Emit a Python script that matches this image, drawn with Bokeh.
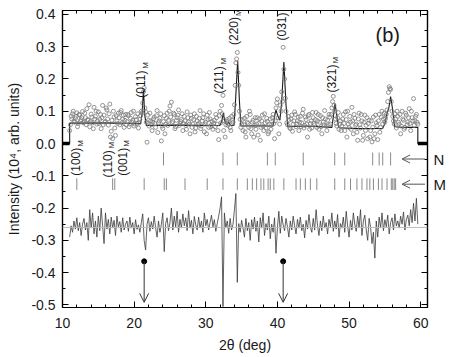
import numpy as np
from bokeh.plotting import figure
from bokeh.models import (LinearAxis, Range1d, Label, Arrow, OpenHead, ColumnDataSource,
                          FixedTicker, PrintfTickFormatter, CustomJSTickFormatter, Span)
from bokeh.core.properties import value
from bokeh.embed import file_html
from bokeh.resources import INLINE

# ---------------- data ----------------
two_theta = np.round(np.arange(11.0, 59.61, 0.2), 1)       # step-scan grid (deg)
two_theta_mid = np.round(np.arange(11.1, 59.51, 0.2), 1)   # interleaved scan points

observed = [
    0.040, 0.085, 0.092, 0.070, 0.078, 0.095, 0.062, 0.088, 0.074, 0.099,
    0.066, 0.080, 0.108, 0.072, 0.052, 0.091, 0.064, 0.112, 0.084, 0.060,
    0.098, 0.075, 0.046, 0.118, 0.088, 0.068, 0.104, 0.057, 0.122, 0.038,
    0.015, 0.082, 0.025, 0.070, 0.094, 0.058, 0.102, 0.076, 0.050, 0.090,
    0.068, 0.086, 0.060, 0.096, 0.072, 0.054, 0.083, 0.062, 0.048, 0.075,
    0.100, 0.125, 0.172, 0.098, 0.004, 0.072, 0.094, 0.058, 0.066, 0.082,
    0.050, 0.102, 0.064, 0.078, 0.008, 0.046, 0.086, 0.060, 0.094, 0.072,
    0.116, 0.128, 0.068, 0.090, 0.052, 0.080, 0.104, 0.062, 0.074, 0.040,
    0.084, 0.056, 0.098, 0.066, 0.030, 0.078, 0.060, 0.092, 0.048, 0.070,
    0.062, 0.102, 0.054, 0.080, 0.036, 0.066, 0.088, 0.050, 0.076, 0.058,
    0.044, 0.072, 0.090, 0.060, 0.012, 0.100, 0.118, 0.149, 0.070, 0.058,
    0.074, 0.062, 0.050, 0.084, 0.066, 0.120, 0.250, 0.282, 0.180, 0.075,
    0.060, 0.040, 0.078, 0.020, 0.066, 0.050, 0.090, 0.030, 0.072, 0.056,
    0.044, 0.080, 0.062, 0.010, 0.070, 0.054, 0.092, 0.048, 0.068, 0.036,
    0.076, 0.058, 0.090, 0.015, 0.110, 0.138, 0.030, 0.118, 0.160, 0.298,
    0.200, 0.100, 0.058, 0.072, 0.046, 0.088, 0.060, 0.098, 0.052, 0.070,
    0.040, 0.084, 0.064, 0.106, 0.056, 0.074, 0.020, 0.090, 0.062, 0.048,
    0.080, 0.058, 0.096, 0.070, 0.044, 0.086, 0.030, 0.066, 0.102, 0.054,
    0.072, 0.090, 0.060, 0.110, 0.146, 0.100, 0.062, 0.080, 0.044, 0.070,
    0.054, 0.090, 0.040, 0.074, 0.100, 0.050, 0.066, 0.112, 0.030, 0.078,
    0.060, 0.010, 0.094, 0.048, 0.070, 0.025, 0.088, 0.056, 0.015, 0.072,
    0.040, 0.005, 0.082, 0.030, 0.064, 0.012, 0.090, 0.050, 0.100, 0.076,
    0.066, 0.090, 0.130, 0.176, 0.168, 0.100, 0.070, 0.092, 0.048, 0.084,
    0.060, 0.030, 0.100, 0.072, 0.050, 0.088, 0.066, 0.108, 0.040, 0.080,
    0.139, 0.070, 0.090, 0.060,
]

observed_mid = [
    0.058, 0.076, 0.100, 0.066, 0.084, 0.052, 0.090, 0.070, 0.080, 0.064,
    0.094, 0.058, 0.074, 0.120, 0.068, 0.082, 0.046, 0.076, 0.100, 0.070,
    0.062, 0.090, 0.080, 0.058, 0.066, 0.110, 0.076, 0.092, 0.020, 0.072,
    0.100, 0.048, 0.086, 0.062, 0.080, 0.096, 0.064, 0.088, 0.072, 0.058,
    0.090, 0.052, 0.078, 0.066, 0.100, 0.060, 0.074, 0.092, 0.064, 0.086,
    0.095, 0.160, 0.110, 0.066, 0.088, 0.054, 0.070, 0.040, 0.076, 0.062,
    0.086, 0.034, 0.070, 0.092, 0.054, 0.068, 0.030, 0.078, 0.056, 0.100,
    0.082, 0.064, 0.094, 0.046, 0.072, 0.088, 0.056, 0.068, 0.092, 0.062,
    0.070, 0.044, 0.080, 0.060, 0.088, 0.050, 0.074, 0.036, 0.084, 0.058,
    0.078, 0.046, 0.070, 0.092, 0.060, 0.030, 0.074, 0.096, 0.052, 0.068,
    0.062, 0.052, 0.080, 0.040, 0.086, 0.064, 0.092, 0.040, 0.020, 0.068,
    0.056, 0.078, 0.040, 0.072, 0.090, 0.180, 0.262, 0.220, 0.100, 0.050,
    0.074, 0.058, 0.036, 0.084, 0.062, 0.100, 0.046, 0.066, 0.020, 0.080,
    0.060, 0.026, 0.076, 0.050, 0.088, 0.040, 0.064, 0.078, 0.030, 0.060,
    0.044, 0.080, 0.062, 0.070, 0.126, 0.080, 0.060, 0.100, 0.130, 0.230,
    0.140, 0.064, 0.084, 0.050, 0.076, 0.038, 0.070, 0.090, 0.060, 0.082,
    0.066, 0.052, 0.094, 0.048, 0.082, 0.060, 0.086, 0.044, 0.070, 0.096,
    0.062, 0.074, 0.050, 0.090, 0.066, 0.052, 0.080, 0.058, 0.076, 0.040,
    0.058, 0.082, 0.090, 0.130, 0.118, 0.076, 0.054, 0.096, 0.060, 0.040,
    0.076, 0.062, 0.098, 0.020, 0.060, 0.084, 0.044, 0.070, 0.090, 0.056,
    0.035, 0.076, 0.058, 0.090, 0.010, 0.066, 0.040, 0.080, 0.062, 0.020,
    0.070, 0.050, 0.015, 0.088, 0.056, 0.070, 0.035, 0.082, 0.060, 0.094,
    0.078, 0.104, 0.158, 0.170, 0.130, 0.084, 0.060, 0.076, 0.100, 0.066,
    0.090, 0.054, 0.076, 0.044, 0.094, 0.058, 0.080, 0.062, 0.100, 0.070,
    0.056, 0.084, 0.066,
]

difference = [
    -0.290, -0.255, -0.275, -0.240, -0.265, -0.230, -0.270, -0.245, -0.285, -0.250,
    -0.232, -0.268, -0.245, -0.300, -0.205, -0.262, -0.215, -0.280, -0.240, -0.290,
    -0.225, -0.270, -0.200, -0.255, -0.310, -0.215, -0.265, -0.235, -0.280, -0.228,
    -0.262, -0.238, -0.285, -0.225, -0.258, -0.242, -0.275, -0.230, -0.268, -0.250,
    -0.240, -0.272, -0.228, -0.262, -0.245, -0.280, -0.236, -0.266, -0.252, -0.275,
    -0.245, -0.218, -0.300, -0.330, -0.250, -0.230, -0.272, -0.242, -0.265, -0.225,
    -0.262, -0.290, -0.240, -0.275, -0.250, -0.215, -0.335, -0.248, -0.230, -0.270,
    -0.245, -0.200, -0.268, -0.225, -0.258, -0.210, -0.275, -0.235, -0.262, -0.218,
    -0.255, -0.230, -0.270, -0.208, -0.262, -0.238, -0.280, -0.226, -0.252, -0.268,
    -0.228, -0.262, -0.240, -0.275, -0.215, -0.255, -0.235, -0.268, -0.245, -0.222,
    -0.258, -0.236, -0.272, -0.248, -0.225, -0.200, -0.165, -0.505, -0.215, -0.262,
    -0.240, -0.278, -0.232, -0.268, -0.250, -0.205, -0.155, -0.430, -0.248, -0.275,
    -0.238, -0.262, -0.290, -0.232, -0.270, -0.245, -0.300, -0.236, -0.265, -0.228,
    -0.272, -0.240, -0.305, -0.230, -0.262, -0.215, -0.285, -0.248, -0.268, -0.225,
    -0.295, -0.250, -0.275, -0.230, -0.340, -0.262, -0.210, -0.278, -0.225, -0.252,
    -0.270, -0.232, -0.258, -0.290, -0.240, -0.268, -0.225, -0.255, -0.280, -0.235,
    -0.262, -0.228, -0.270, -0.250, -0.292, -0.238, -0.265, -0.220, -0.258, -0.275,
    -0.232, -0.268, -0.205, -0.255, -0.285, -0.240, -0.270, -0.225, -0.262, -0.245,
    -0.280, -0.235, -0.258, -0.215, -0.272, -0.240, -0.265, -0.220, -0.290, -0.248,
    -0.262, -0.228, -0.275, -0.210, -0.255, -0.290, -0.238, -0.268, -0.215, -0.250,
    -0.272, -0.225, -0.262, -0.205, -0.285, -0.240, -0.222, -0.268, -0.300, -0.232,
    -0.258, -0.310, -0.275, -0.355, -0.240, -0.290, -0.228, -0.262, -0.215, -0.270,
    -0.236, -0.258, -0.222, -0.280, -0.245, -0.230, -0.268, -0.218, -0.255, -0.240,
    -0.262, -0.225, -0.250, -0.212, -0.268, -0.235, -0.222, -0.255, -0.205, -0.245,
    -0.185, -0.240, -0.170, -0.250,
]

fit_x = [10.0, 11.0, 11.0, 16.0, 20.9, 21.1, 21.3, 21.5, 21.7, 26.0,
         32.0, 32.25, 32.45, 32.65, 32.9, 33.2, 33.45, 33.95, 34.15, 34.45,
         34.7, 34.9, 37.0, 39.4, 39.65, 39.8, 40.05, 40.35, 40.6, 40.9,
         41.2, 41.45, 44.0, 47.6, 47.85, 48.05, 48.3, 48.55, 51.0, 54.7,
         55.0, 55.35, 55.55, 55.8, 56.05, 56.35, 57.5, 59.6, 59.6, 60.95]
fit_y = [0.0, 0.0, 0.063, 0.064, 0.062, 0.09, 0.165, 0.085, 0.056, 0.057,
         0.056, 0.072, 0.094, 0.07, 0.058, 0.066, 0.056, 0.057, 0.13, 0.256,
         0.13, 0.054, 0.055, 0.054, 0.09, 0.104, 0.085, 0.072, 0.13, 0.252,
         0.12, 0.052, 0.054, 0.050, 0.09, 0.124, 0.085, 0.049, 0.046, 0.047,
         0.062, 0.097, 0.11, 0.145, 0.11, 0.052, 0.05, 0.05, 0.0, 0.0]

phase_names = ["N", "M"]
n_reflections = [24.1, 32.4, 34.4, 38.6, 39.7, 43.6, 48.0, 49.4, 53.3, 54.2, 54.7, 55.8]
m_reflections = [12.0, 17.0, 17.3, 21.4, 24.2, 24.5, 27.1, 30.2, 32.4, 34.4, 35.8,
                 36.5, 37.1, 37.7, 38.1, 38.7, 39.0, 39.5, 40.9, 42.6, 43.2, 43.9,
                 44.6, 45.5, 48.0, 49.4, 50.2, 51.1, 51.8, 52.5, 52.9, 53.4, 54.1,
                 54.6, 55.3, 55.9, 56.1, 56.3, 56.5]

hkl_labels = ["(100)", "(110)", "(001)", "(011)", "(211)", "(220)", "(031)", "(321)"]
hkl_phase = ["M"] * 8
hkl_x = [11.9, 16.3, 18.4, 21.0, 31.9, 34.0, 40.6, 47.6]
hkl_y = [-0.100, -0.105, -0.100, 0.142, 0.155, 0.305, 0.319, 0.158]

marker_x = [21.4, 40.8]
marker_top = [-0.365, -0.365]
marker_bottom = [-0.492, -0.492]

diff_offset = -0.26
x_ticks = [10, 20, 30, 40, 50, 60]
y_ticks = [-0.5, -0.4, -0.3, -0.2, -0.1, 0.0, 0.1, 0.2, 0.3, 0.4]

# ---------------- figure ----------------
FONT = "Liberation Sans"
N_ROW_Y, M_ROW_Y = -0.048, -0.126

p = figure(width=450, height=357, x_range=Range1d(10, 60.95), y_range=Range1d(-0.508, 0.412),
           output_backend="svg", toolbar_location=None,
           min_border_left=62, min_border_right=23, min_border_top=10, min_border_bottom=50)
p.xgrid.visible = False
p.ygrid.visible = False
p.outline_line_color = "black"
p.outline_line_width = 1.2
p.background_fill_color = "white"
p.border_fill_color = "white"

x_minor = [v for v in np.round(np.arange(10, 61, 2), 1) if v not in x_ticks]
y_minor = list(np.round(np.arange(-0.5, 0.41, 0.05), 2))
xt = FixedTicker(ticks=x_ticks, minor_ticks=x_minor)
yt = FixedTicker(ticks=y_ticks, minor_ticks=y_minor)

bottom_ax = p.below[0]
left_ax = p.left[0]
bottom_ax.ticker = xt
left_ax.ticker = yt
left_ax.formatter = PrintfTickFormatter(format="%.1f")
bottom_ax.axis_label = "2\u03b8 (deg)"
left_ax.axis_label = "Intensity (10\u2074, arb. units)"

top_ax = LinearAxis(ticker=xt, formatter=CustomJSTickFormatter(code="return ''"),
                    major_label_text_font_size="0px", major_label_standoff=0)
right_ax = LinearAxis(ticker=yt, formatter=CustomJSTickFormatter(code="return ''"),
                      major_label_text_font_size="0px", major_label_standoff=0)
p.add_layout(top_ax, "above")
p.add_layout(right_ax, "right")

for ax in (bottom_ax, left_ax, top_ax, right_ax):
    ax.major_tick_in = 6
    ax.major_tick_out = 0
    ax.minor_tick_in = 3
    ax.minor_tick_out = 0
    ax.axis_line_color = "black"
    ax.axis_line_width = 1.2
    ax.major_tick_line_color = "black"
    ax.minor_tick_line_color = "black"
for ax in (bottom_ax, left_ax):
    ax.major_label_text_font = FONT
    ax.major_label_text_font_size = "14px"
    ax.major_label_text_color = "#1a1a1a"
    ax.axis_label_text_font = FONT
    ax.axis_label_text_font_size = "14px"
    ax.axis_label_text_font_style = "normal"
    ax.axis_label_text_color = "#1a1a1a"
bottom_ax.major_label_standoff = 10
bottom_ax.axis_label_standoff = 6
left_ax.major_label_standoff = 7
left_ax.axis_label_standoff = 6

# phase names as labels on an extra right-hand axis (no line, no ticks)
name_ax = LinearAxis(ticker=FixedTicker(ticks=[N_ROW_Y, M_ROW_Y], minor_ticks=[]),
                     major_label_overrides={N_ROW_Y: phase_names[0], M_ROW_Y: phase_names[1]},
                     axis_line_color=None, major_tick_line_color=None, minor_tick_line_color=None,
                     major_tick_in=0, major_tick_out=0, minor_tick_in=0, minor_tick_out=0,
                     major_label_standoff=6, major_label_text_font=FONT,
                     major_label_text_font_size="15px", major_label_text_color="#1a1a1a")
p.add_layout(name_ax, "right")

# difference baseline and curve
p.add_layout(Span(location=diff_offset, dimension="width", line_color="#bbbbbb", line_width=1))
p.line(two_theta, difference, line_color="#3a3a3a", line_width=0.8)

# reflection markers
p.segment(x0=n_reflections, y0=[-0.028] * len(n_reflections), x1=n_reflections,
          y1=[-0.068] * len(n_reflections), line_color="#8a8a8a", line_width=1)
p.segment(x0=m_reflections, y0=[-0.108] * len(m_reflections), x1=m_reflections,
          y1=[-0.144] * len(m_reflections), line_color="#8a8a8a", line_width=1)

# fitted curve
p.line(fit_x, fit_y, line_color="#1a1a1a", line_width=1.1)
p.line(fit_x[:2], fit_y[:2], line_color="black", line_width=3.5)
p.line(fit_x[-2:], fit_y[-2:], line_color="black", line_width=3.5)

# observed points
for xs, ys in ((two_theta, observed), (two_theta_mid, observed_mid)):
    p.scatter(xs, ys, marker="circle", size=4, fill_color=None,
              line_color="#7a7a7a", line_width=0.8)

# hkl labels
src_hkl = ColumnDataSource(dict(x=hkl_x, y=hkl_y, t=hkl_labels, s=hkl_phase))
p.text(x="x", y="y", text="t", source=src_hkl, angle=np.pi / 2, text_align="left",
       text_baseline="middle", text_font=value(FONT), text_font_size="12px", text_color="#1a1a1a")
p.text(x="x", y="y", text="s", source=src_hkl, angle=np.pi / 2, text_align="left",
       text_baseline="middle", x_offset=4, y_offset=-29, text_font=value(FONT),
       text_font_size="8px", text_color="#1a1a1a")

# phase rows arrows
for ry in (N_ROW_Y, M_ROW_Y):
    p.add_layout(Arrow(end=OpenHead(size=8, line_color="#555555", line_width=1),
                       x_start=60.6, y_start=ry, x_end=57.4, y_end=ry,
                       line_color="#555555", line_width=1))

# marker arrows
src_m = ColumnDataSource(dict(x=marker_x, top=marker_top, bottom=marker_bottom))
p.add_layout(Arrow(end=OpenHead(size=9, line_color="#333333", line_width=1),
                   x_start="x", y_start="top", x_end="x", y_end="bottom", source=src_m,
                   line_color="#333333", line_width=1))
p.scatter(x="x", y="top", source=src_m, marker="circle", size=5, color="black")

p.add_layout(Label(x=55.4, y=0.337, text="(b)", text_align="center", text_baseline="middle",
                   text_font=FONT, text_font_size="20px", text_color="#1a1a1a"))

open("out.html", "w").write(file_html(p, INLINE))
